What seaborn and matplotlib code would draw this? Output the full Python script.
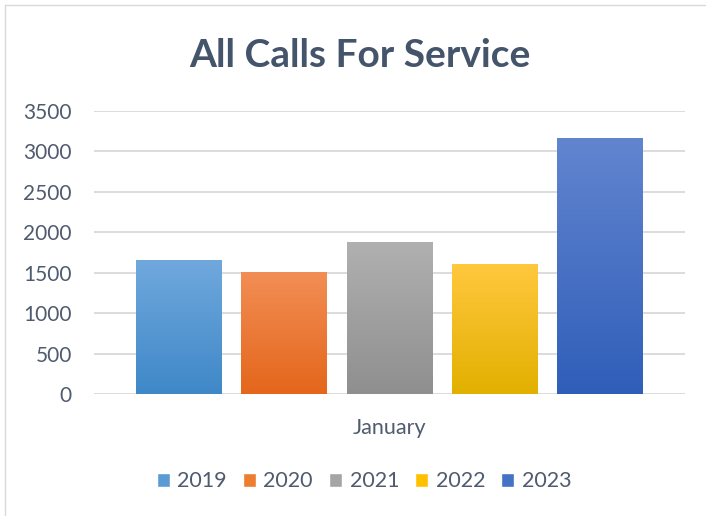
import numpy as np
import pandas as pd
import matplotlib
matplotlib.use("Agg")
import matplotlib.pyplot as plt
import seaborn as sns
from matplotlib.colors import LinearSegmentedColormap

# values
months = ["January"]
years = ["2019", "2020", "2021", "2022", "2023"]
calls = [1657, 1508, 1879, 1607, 3160]

# gradient colours per bar (top, bottom)
top_colors = ["#70A8DD", "#F28E55", "#B0B0B0", "#FFC83E", "#6285CF"]
bottom_colors = ["#3F88C8", "#E4661B", "#8F8F8F", "#E2B000", "#2F5EB9"]
mid_colors = ["#5B9BD5", "#ED7D31", "#A5A5A5", "#FFC000", "#4472C4"]

df = pd.DataFrame({"month": months * len(years), "year": years, "calls": calls})

sns.set_style("white")
plt.rcParams["font.family"] = ["Lato", "DejaVu Sans"]
text_col = "#44546A"
label_col = "#4F5B6E"

fig = plt.figure(figsize=(7.06, 5.16), dpi=100)
ax = fig.add_axes([94 / 706, 122 / 516, 591 / 706, 283 / 516])

sns.barplot(data=df, x="month", y="calls", hue="year", palette=mid_colors,
            saturation=1, width=0.89, gap=0.183, ax=ax, zorder=3)

ax.set_ylim(0, 3500)
ax.set_yticks(range(0, 3501, 500))
ax.grid(axis="y", color="#D9D9D9", lw=1.3, zorder=0)
ax.set_axisbelow(True)
for s in ax.spines.values():
    s.set_visible(False)
ax.set_xlabel("")
ax.set_ylabel("")
ax.tick_params(axis="y", length=0, pad=16, labelsize=15, labelcolor=label_col)
ax.tick_params(axis="x", length=0, pad=17, labelsize=15.5, labelcolor=label_col)

# gradient fill clipped to each bar
for patch, c_top, c_bot in zip(ax.patches, top_colors, bottom_colors):
    x0, y0 = patch.get_x(), patch.get_y()
    w, h = patch.get_width(), patch.get_height()
    cmap = LinearSegmentedColormap.from_list("g", [c_bot, c_top])
    grad = np.linspace(0, 1, 256).reshape(-1, 1)
    im = ax.imshow(grad, cmap=cmap, origin="lower", aspect="auto",
                   extent=[x0, x0 + w, y0, y0 + h], zorder=3)
    im.set_clip_path(patch)
    patch.set_facecolor("none")
    patch.set_edgecolor("none")
ax.set_xlim(-0.5, 0.5)
ax.set_ylim(0, 3500)

sns.move_legend(ax, "upper center", bbox_to_anchor=(0.457, -0.205), ncol=5,
                frameon=False, title=None, fontsize=15.5, handlelength=0.6,
                handleheight=0.6, handletextpad=0.35, columnspacing=0.75)
for t in ax.get_legend().get_texts():
    t.set_color(label_col)

fig.text(0.51, 0.893, "All Calls For Service", ha="center", va="center",
         fontsize=28, fontweight="bold", color=text_col)

# chart border (top and left visible in reference)
fig.add_artist(plt.Line2D([5 / 706, 5 / 706], [0, 1 - 5 / 516], color="#D9D9D9", lw=1))
fig.add_artist(plt.Line2D([5 / 706, 1], [1 - 5 / 516, 1 - 5 / 516], color="#D9D9D9", lw=1))

fig.savefig("out.png", dpi=100)
